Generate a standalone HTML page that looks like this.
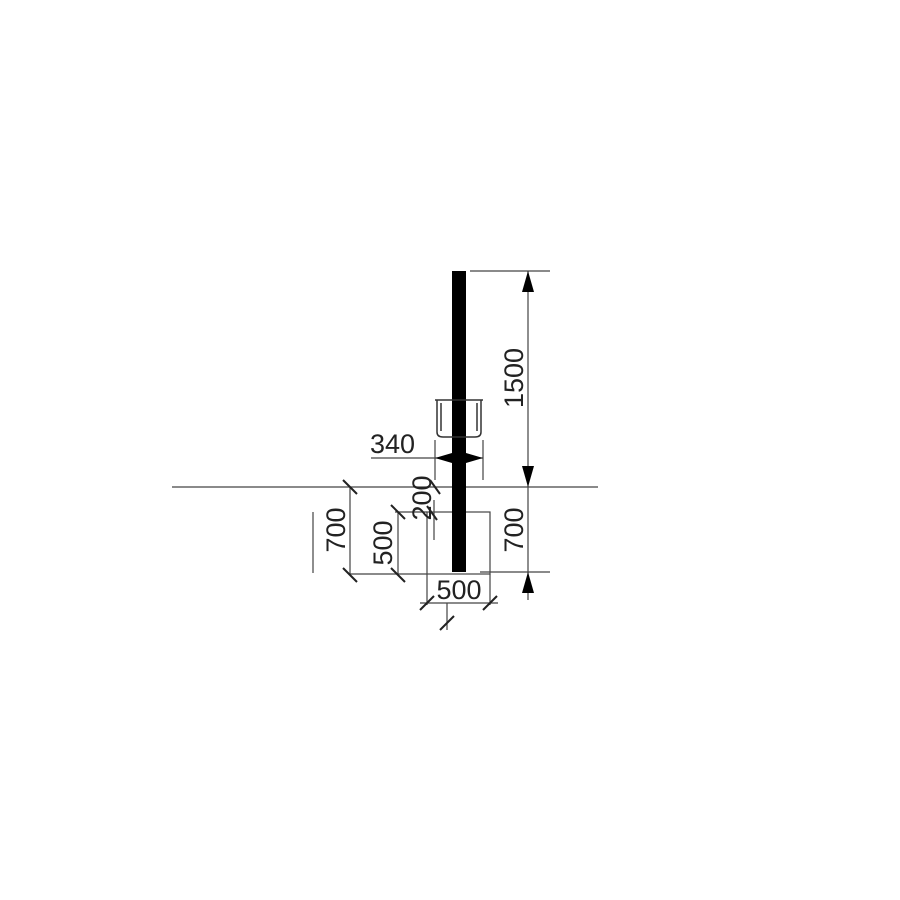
<!DOCTYPE html>
<html><head><style>html,body{margin:0;padding:0;background:#fff}svg{display:block}</style></head>
<body>
<svg width="900" height="900" viewBox="0 0 900 900" xmlns="http://www.w3.org/2000/svg" font-family="Liberation Sans, sans-serif">
<g stroke="#444" stroke-width="1.2" fill="none">
<line x1="172" y1="487" x2="598" y2="487"/>
<line x1="470" y1="271" x2="550" y2="271"/>
<line x1="480" y1="572" x2="550" y2="572"/>
<line x1="528" y1="271" x2="528" y2="600"/>
<rect x="427" y="512" width="63" height="62"/>
<line x1="350" y1="487" x2="350" y2="575"/>
<line x1="313" y1="512" x2="313" y2="573"/>
<line x1="398" y1="512" x2="398" y2="575"/>
<line x1="350" y1="574" x2="427" y2="574"/>
<line x1="395" y1="512" x2="427" y2="512"/>
<line x1="435" y1="440" x2="435" y2="480"/>
<line x1="483" y1="440" x2="483" y2="480"/>
<line x1="371" y1="458" x2="483" y2="458"/>
<line x1="434" y1="500" x2="434" y2="540"/>
<line x1="427" y1="574" x2="427" y2="605"/>
<line x1="490" y1="574" x2="490" y2="605"/>
<line x1="420" y1="603" x2="498" y2="603"/>
<line x1="447" y1="603" x2="447" y2="630"/>
</g>
<g stroke="#222" stroke-width="2">
<line x1="343" y1="480" x2="357" y2="494"/>
<line x1="343" y1="568" x2="357" y2="582"/>
<line x1="391" y1="505" x2="405" y2="519"/>
<line x1="391" y1="568" x2="405" y2="582"/>
<line x1="430" y1="480" x2="440" y2="494"/>
<line x1="427" y1="506" x2="437" y2="520"/>
<line x1="420" y1="610" x2="434" y2="596"/>
<line x1="483" y1="610" x2="497" y2="596"/>
<line x1="440" y1="630" x2="454" y2="616"/>
</g>
<rect x="452" y="271" width="14" height="301" fill="#000"/>
<g stroke="#333" stroke-width="1.5" fill="none">
<path d="M435 400 h48 M437 400 v32 q0 5 6 5 h32 q6 0 6 -5 v-32 M441 403 v28 M477 403 v28"/>
</g>
<polygon points="435,458 452,453 452,463" fill="#000"/>
<polygon points="483,458 466,453 466,463" fill="#000"/>
<polygon points="528,271 522,292 534,292" fill="#000"/>
<polygon points="528,487 522,466 534,466" fill="#000"/>
<polygon points="528,572 522,593 534,593" fill="#000"/>
<g font-size="27" fill="#222">
<text x="370" y="453">340</text>
<text x="459" y="599" text-anchor="middle">500</text>
<text transform="translate(523,378) rotate(-90)" text-anchor="middle">1500</text>
<text transform="translate(523,530) rotate(-90)" text-anchor="middle">700</text>
<text transform="translate(345,530) rotate(-90)" text-anchor="middle">700</text>
<text transform="translate(392,543) rotate(-90)" text-anchor="middle">500</text>
<text transform="translate(431,498) rotate(-90)" text-anchor="middle">200</text>
</g>
</svg>
</body></html>
